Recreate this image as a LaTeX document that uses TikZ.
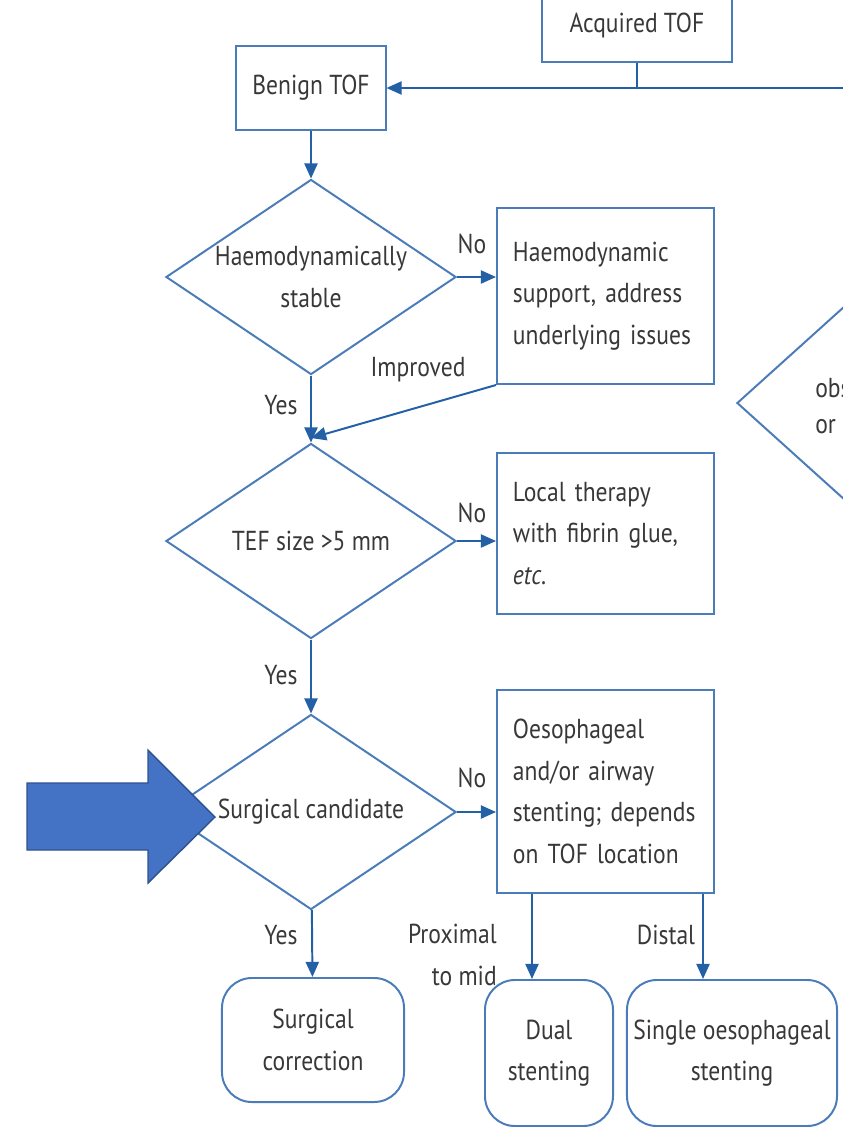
\documentclass[tikz,border=0pt]{standalone}
\usepackage{fontspec}
\setmainfont{PT Sans}[FakeStretch=0.86]
\definecolor{tofBlue}{HTML}{2360A6}
\definecolor{tofEdge}{HTML}{4A7CB9}
\definecolor{tofText}{HTML}{383838}
\definecolor{ptrFill}{HTML}{4472C4}
\definecolor{ptrEdge}{HTML}{2F528F}
\usetikzlibrary{shapes.geometric, arrows.meta}

\begin{document}
\begin{tikzpicture}[x=0.025cm, y=-0.025cm,
  txt/.style={font=\fontsize{19.5}{29.5}\selectfont, text=tofText},
  box/.style={txt, draw=tofEdge, line width=1.4pt, fill=white,
    inner xsep=0.4cm, inner ysep=0pt},
  stepbox/.style={box, minimum width=5.425cm, text width=4.625cm, align=left},
  decision/.style={txt, diamond, draw=tofEdge, line width=1.4pt, aspect=1.5,
    inner sep=0pt, minimum width=7.25cm, minimum height=4.875cm, align=center},
  outcome/.style={box, rounded corners=0.75cm, inner xsep=0.15cm, align=center},
  lbl/.style={txt, inner sep=0pt},
  arr/.style={-{Triangle[length=0.38cm,width=0.33cm]}, line width=1.4pt, tofBlue}]

  \useasboundingbox (0,0) rectangle (843,1127);
  \clip (0,0) rectangle (843,1127);
  \fill[white] (0,0) rectangle (843,1127);

  % Top — entry boxes
  \node[box, minimum width=4.725cm, minimum height=1.85cm] (acq) at (637,25) {Acquired TOF};
  \node[box, minimum width=3.6cm, minimum height=2.1cm] (benign) at (311,88) {Benign TOF};
  \coordinate (acqJoin) at (637,88);
  \coordinate (acqIn) at (860,88);

  % Left column — decisions
  \node[decision] (haemo) at (311,277) {Haemodynamically\\stable};
  \node[decision] (tef) at (311,541) {TEF size >5 mm};
  \node[decision] (candidate) at (311,812) {Surgical candidate};
  \coordinate (improvedIn) at (311,438);

  % Right column — management boxes
  \node[stepbox, minimum height=4.4cm] (support) at (605.5,296)
    {Haemodynamic\\support, address\\underlying issues};
  \node[stepbox, minimum height=4.025cm] (local) at (605.5,533.5)
    {Local therapy\\with fibrin glue,\\\textit{etc}.};
  \node[stepbox, minimum height=5.075cm] (stenting) at (605.5,791.5)
    {Oesophageal\\and/or airway\\stenting; depends\\on TOF location};

  % Bottom row — outcomes
  \node[outcome, minimum width=4.55cm, minimum height=3.1cm] (surgery) at (313,1040)
    {Surgical\\correction};
  \node[outcome, minimum width=3.2cm, minimum height=3.65cm] (dual) at (549,1053)
    {Dual\\stenting};
  \node[outcome, minimum width=5.25cm, minimum height=3.65cm] (single) at (732,1053)
    {Single oesophageal\\stenting};

  % Far right — cut-off decision
  \node[decision, minimum width=10.65cm, minimum height=9.6cm] (obstruct) at (950,403) {};
  \node[lbl, anchor=west, align=left, font=\fontsize{19.5}{26}\selectfont] (obstructTxt) at (815,406) {obs\\or};

  % Connectors
  \draw[tofBlue, line width=1.4pt] (acq.south) -- (acqJoin);
  \draw[arr] (acqIn) -- (benign.east);
  \draw[arr] (benign) -- (haemo);
  \draw[arr] (haemo) -- (support.west |- haemo);
  \draw[arr] (haemo) -- (tef);
  \draw[arr] (support.south west) -- (improvedIn);
  \draw[arr] (tef) -- (local.west |- tef);
  \draw[arr] (tef) -- (candidate);
  \draw[arr] (candidate) -- (stenting.west |- candidate);
  \draw[arr] (candidate) -- (surgery);
  \draw[arr] ([xshift=0.9cm]stenting.south west) -- ([xshift=0.9cm]stenting.south west |- dual.north);
  \draw[arr] ([xshift=-0.3cm]stenting.south east) -- ([xshift=-0.3cm]stenting.south east |- single.north);

  % Labels
  \node[lbl] (no1) at (472,244) {No};
  \node[lbl] (no2) at (472,513) {No};
  \node[lbl] (no3) at (472,778) {No};
  \node[lbl] (yes1) at (281,405) {Yes};
  \node[lbl] (yes2) at (281,675) {Yes};
  \node[lbl] (yes3) at (281,935) {Yes};
  \node[lbl] (improved) at (418,370) {Improved};
  \node[lbl, anchor=east, align=right] (proximal) at (497,955) {Proximal\\to mid};
  \node[lbl] (distal) at (666,935) {Distal};

  % Pointer
  \draw[fill=ptrFill, draw=ptrEdge, line width=1pt]
    (27,783) -- (148,783) -- (148,750) -- (215,817) -- (148,883) -- (148,850) -- (27,850) -- cycle;
\end{tikzpicture}
\end{document}
